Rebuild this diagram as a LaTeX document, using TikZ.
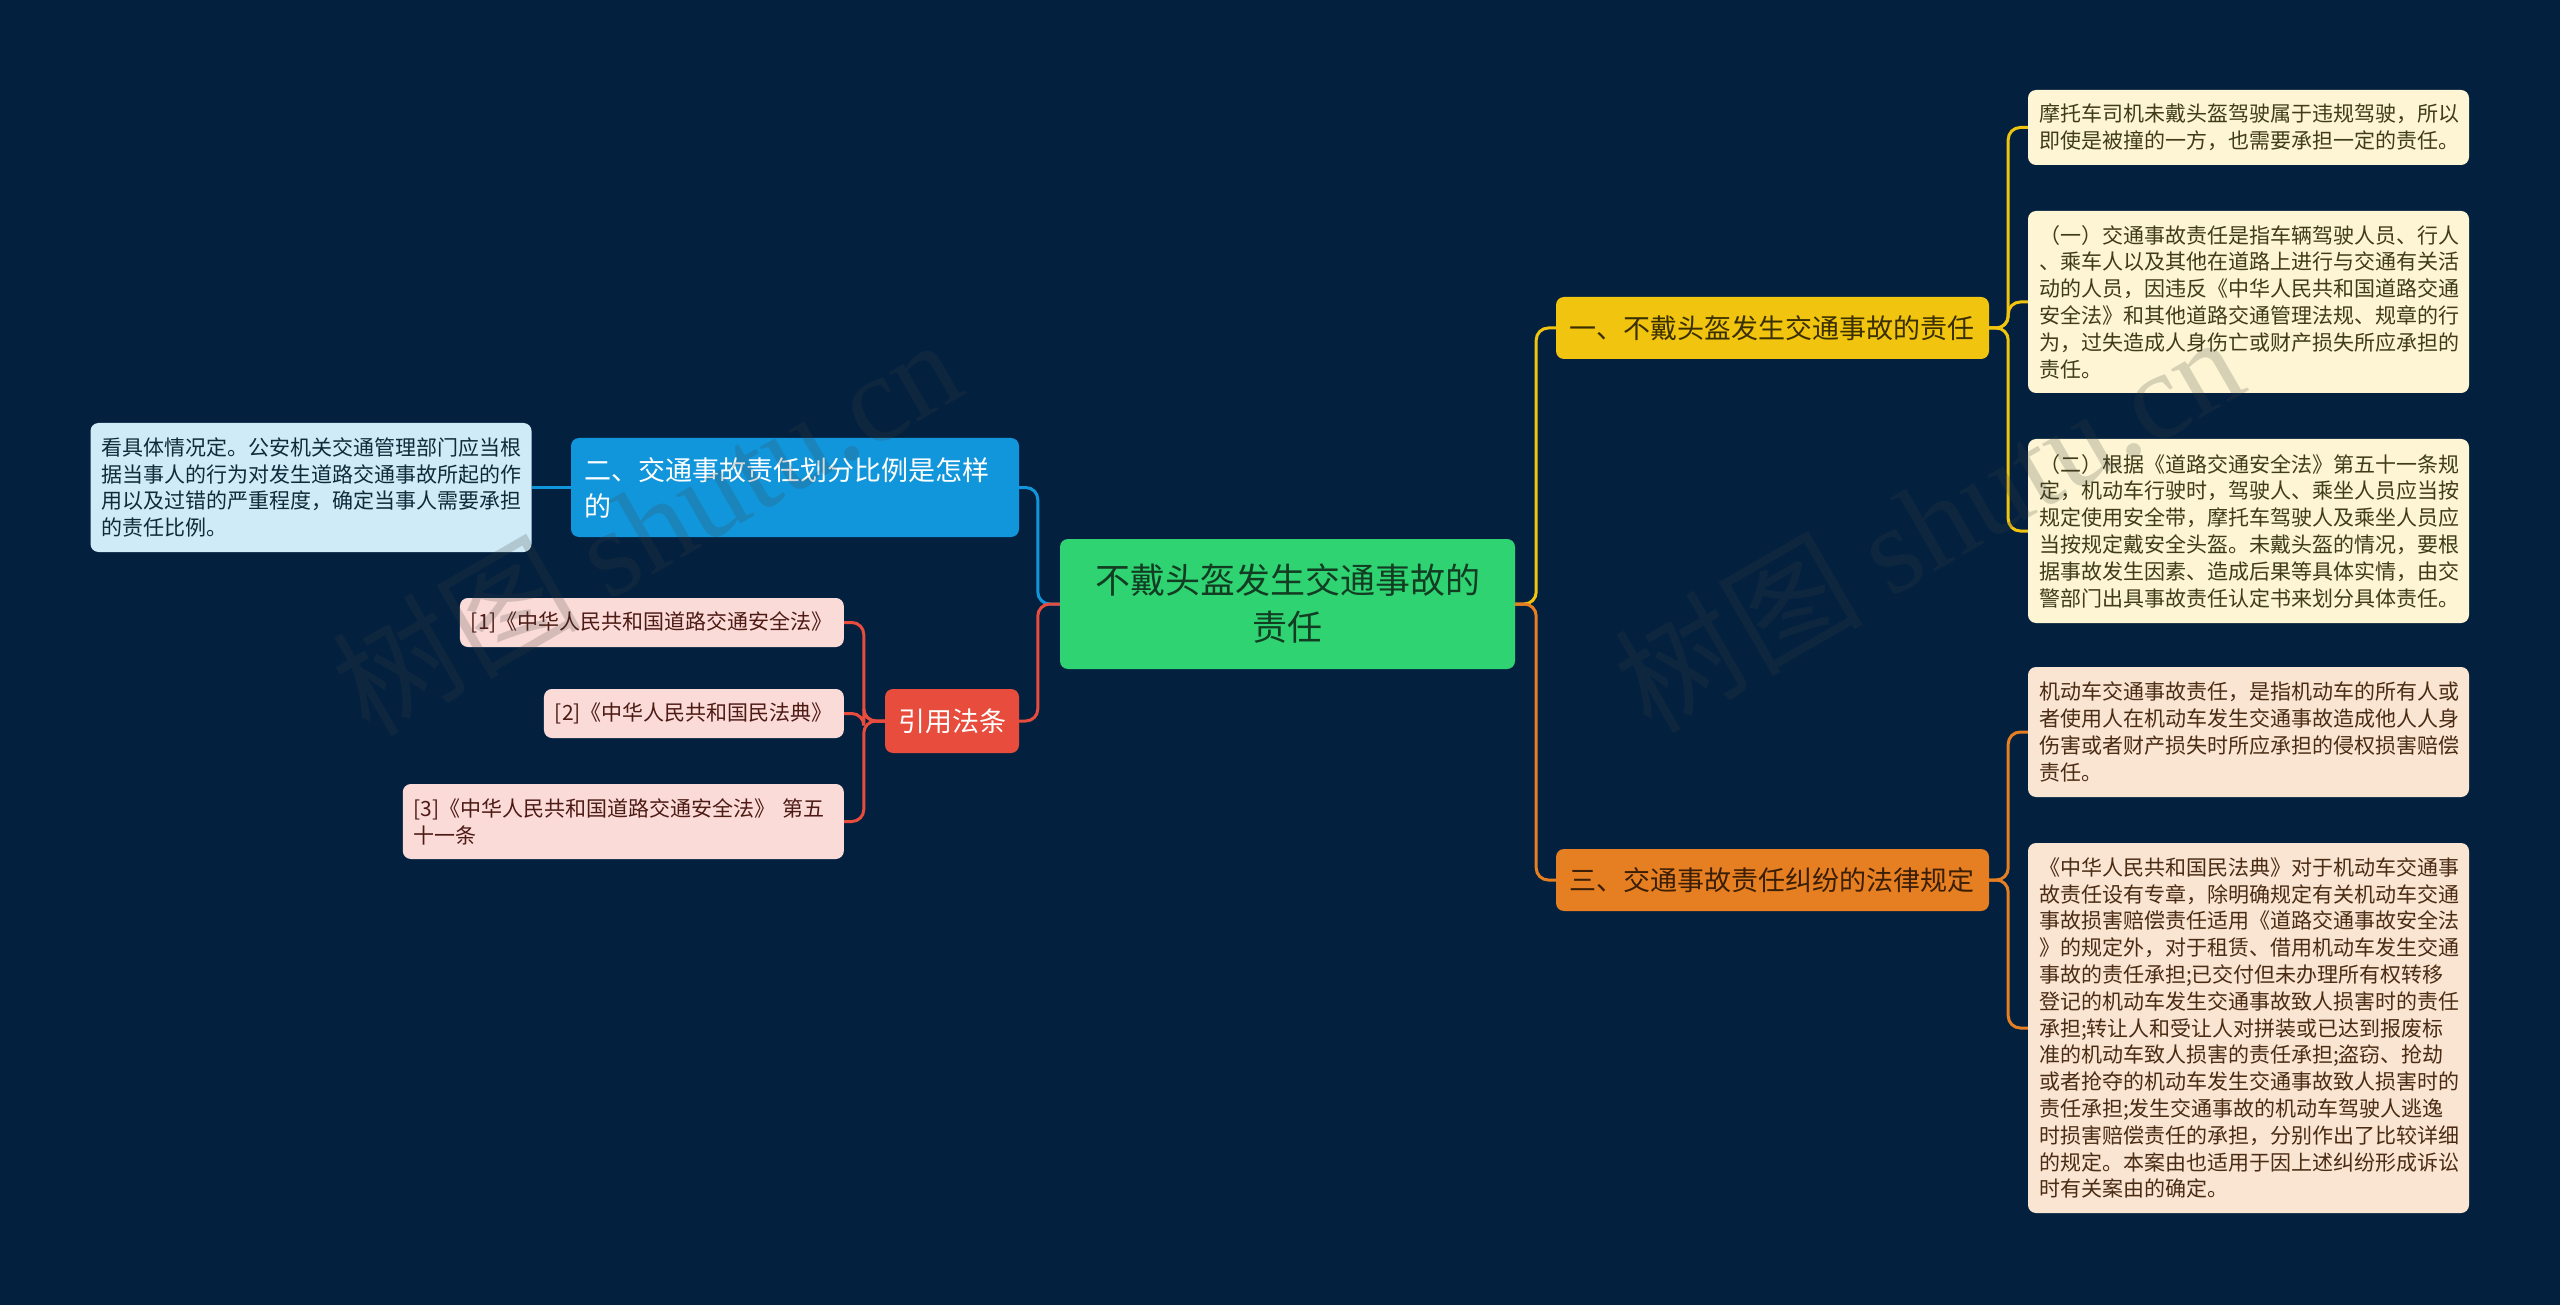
\documentclass[tikz,border=0pt]{standalone}
\usepackage{fontspec}
\setmainfont{Noto Sans CJK SC}
\newfontfamily\wmlatin{Liberation Serif}
\definecolor{bg}{HTML}{03213F}
\definecolor{cRoot}{HTML}{2FD372}
\definecolor{cRootT}{HTML}{123D22}
\definecolor{cYel}{HTML}{F1C40F}
\definecolor{cYelT}{HTML}{3A2F00}
\definecolor{cOra}{HTML}{E67E22}
\definecolor{cOraT}{HTML}{3A1E05}
\definecolor{cBlu}{HTML}{1296DB}
\definecolor{cRed}{HTML}{E74C3C}
\definecolor{lYel}{HTML}{FDF5D3}
\definecolor{lYelT}{HTML}{403C1A}
\definecolor{lOra}{HTML}{FAE5D3}
\definecolor{lOraT}{HTML}{4A2C14}
\definecolor{lBlu}{HTML}{CFEBF7}
\definecolor{lBluT}{HTML}{0F2A3A}
\definecolor{lRed}{HTML}{FADBD8}
\definecolor{lRedT}{HTML}{4D1A14}
\definecolor{wmc}{RGB}{60,60,60}
\begin{document}
\begin{tikzpicture}[x=1pt,y=-1pt,
  rootbox/.style={fill=cRoot, text=cRootT, rounded corners=8pt, inner sep=0pt,
    minimum width=455pt, minimum height=130pt, align=center,
    font=\fontsize{35}{47}\selectfont},
  branchbox/.style={rounded corners=8pt, inner xsep=13pt, inner ysep=0pt,
    align=left, font=\fontsize{27}{36}\selectfont},
  leafbox/.style={rounded corners=8pt, inner xsep=11pt, inner ysep=0pt,
    text width=419pt, align=left, minimum width=441pt,
    font=\fontsize{21}{26.8}\selectfont},
  refbox/.style={rounded corners=8pt, inner xsep=11pt, inner ysep=0pt,
    minimum height=49pt, fill=lRed, text=lRedT,
    font=\fontsize{21}{26.8}\selectfont},
  conn/.style={line width=3pt, rounded corners=12pt},
  wm/.style={text=wmc, text opacity=0.2, font=\fontsize{124}{130}\selectfont}
]
\fill[bg] (0,0) rectangle (2560,1305);
\useasboundingbox (0,0) rectangle (2560,1305);

% root
\node[rootbox] (root) at (1287.5,604) {不戴头盔发生交通事故的\\责任};

% branches
\node[branchbox, fill=cYel, text=cYelT, minimum width=433pt, minimum height=62pt, text width=407pt]
  (b1) at (1772.5,328) {一、不戴头盔发生交通事故的责任};
\node[branchbox, fill=cOra, text=cOraT, minimum width=433pt, minimum height=62pt, text width=407pt]
  (b3) at (1772.5,880) {三、交通事故责任纠纷的法律规定};
\node[branchbox, fill=cBlu, text=white, minimum width=448pt, minimum height=99pt, text width=422pt]
  (b2) at (795,487.5) {二、交通事故责任划分比例是怎样\\的};
\node[branchbox, fill=cRed, text=white, minimum width=134pt, minimum height=64pt, align=center]
  (b4) at (952,721) {引用法条};

% right leaves (yellow)
\node[leafbox, fill=lYel, text=lYelT, minimum height=75pt] (L1) at (2248.5,127.5)
  {摩托车司机未戴头盔驾驶属于违规驾驶，所以\\即使是被撞的一方，也需要承担一定的责任。};
\node[leafbox, fill=lYel, text=lYelT, minimum height=182pt] (L2) at (2248.5,302)
  {（一）交通事故责任是指车辆驾驶人员、行人\\、乘车人以及其他在道路上进行与交通有关活\\动的人员，因违反《中华人民共和国道路交通\\安全法》和其他道路交通管理法规、规章的行\\为，过失造成人身伤亡或财产损失所应承担的\\责任。};
\node[leafbox, fill=lYel, text=lYelT, minimum height=184pt] (L3) at (2248.5,531)
  {（二）根据《道路交通安全法》第五十一条规\\定，机动车行驶时，驾驶人、乘坐人员应当按\\规定使用安全带，摩托车驾驶人及乘坐人员应\\当按规定戴安全头盔。未戴头盔的情况，要根\\据事故发生因素、造成后果等具体实情，由交\\警部门出具事故责任认定书来划分具体责任。};

% right leaves (orange)
\node[leafbox, fill=lOra, text=lOraT, minimum height=130pt] (L4) at (2248.5,732)
  {机动车交通事故责任，是指机动车的所有人或\\者使用人在机动车发生交通事故造成他人人身\\伤害或者财产损失时所应承担的侵权损害赔偿\\责任。};
\node[leafbox, fill=lOra, text=lOraT, minimum height=370pt] (L5) at (2248.5,1028)
  {《中华人民共和国民法典》对于机动车交通事\\故责任设有专章，除明确规定有关机动车交通\\事故损害赔偿责任适用《道路交通事故安全法\\》的规定外，对于租赁、借用机动车发生交通\\事故的责任承担;已交付但未办理所有权转移\\登记的机动车发生交通事故致人损害时的责任\\承担;转让人和受让人对拼装或已达到报废标\\准的机动车致人损害的责任承担;盗窃、抢劫\\或者抢夺的机动车发生交通事故致人损害时的\\责任承担;发生交通事故的机动车驾驶人逃逸\\时损害赔偿责任的承担，分别作出了比较详细\\的规定。本案由也适用于因上述纠纷形成诉讼\\时有关案由的确定。};

% left leaf (blue)
\node[leafbox, fill=lBlu, text=lBluT, minimum height=129pt] (B2L) at (311,487.5)
  {看具体情况定。公安机关交通管理部门应当根\\据当事人的行为对发生道路交通事故所起的作\\用以及过错的严重程度，确定当事人需要承担\\的责任比例。};

% references (red)
\node[refbox, anchor=east] (R1) at (844,622.5) {[1]《中华人民共和国道路交通安全法》};
\node[refbox, anchor=east] (R2) at (844,713.5) {[2]《中华人民共和国民法典》};
\node[refbox, anchor=east, text width=419pt, align=left, minimum height=75pt] (R3) at (844,821.5)
  {[3]《中华人民共和国道路交通安全法》 第五\\十一条};

% connectors
\draw[conn, cYel] (root.east) -- ++(21,0) |- (b1.west);
\draw[conn, cOra] (root.east) -- ++(21,0) |- (b3.west);
\draw[conn, cBlu] (root.west) -- ++(-22,0) |- (b2.east);
\draw[conn, cRed] (root.west) -- ++(-22,0) |- (b4.east);

\draw[conn, cYel] (b1.east) -- ++(19,0) |- (L1.west);
\draw[conn, cYel] (b1.east) -- ++(19,0) |- (L2.west);
\draw[conn, cYel] (b1.east) -- ++(19,0) |- (L3.west);

\draw[conn, cOra] (b3.east) -- ++(19,0) |- (L4.west);
\draw[conn, cOra] (b3.east) -- ++(19,0) |- (L5.west);

\draw[conn, cBlu] (b2.west) -- (B2L.east);

\draw[conn, cRed] (b4.west) -- ++(-21,0) |- (R1.east);
\draw[conn, cRed] (b4.west) -- ++(-21,0) |- (R2.east);
\draw[conn, cRed] (b4.west) -- ++(-21,0) |- (R3.east);

% watermarks
\node[wm, rotate=30] (wm1) at (646,525) {树图 {\wmlatin shutu.cn}};
\node[wm, rotate=30] (wm2) at (1928,522) {树图 {\wmlatin shutu.cn}};
\end{tikzpicture}
\end{document}
